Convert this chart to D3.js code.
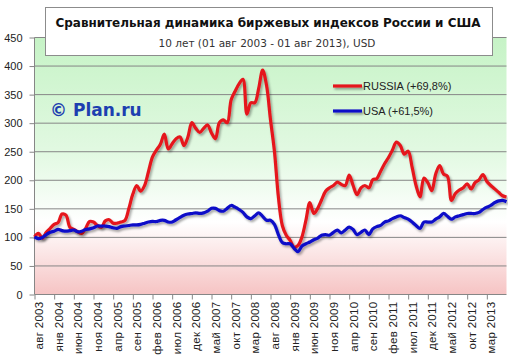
<!DOCTYPE html>
<html>
<head>
<meta charset="utf-8">
<script src="https://cdn.jsdelivr.net/npm/d3@7"></script>
<style>
  body { margin: 0; background: #fff; }
  svg { display: block; }
</style>
</head>
<body>
<div id="chart"></div>
<script>
// monthly points, 01 авг 2003 .. 01 авг 2013 (index 0..120)
var russia = [
  100, 106, 98, 108, 115, 122, 125, 140, 138, 117,
  113, 109, 106, 115, 127, 126, 120, 117, 128, 130,
  124, 124, 126, 129, 150, 175, 190, 180, 190, 215,
  240, 252, 262, 280, 254, 263, 272, 275, 260, 275,
  300, 290, 283, 290, 296, 282, 272, 300, 305, 300,
  340, 355, 368, 376, 315, 335, 335, 360, 392, 365,
  305, 250, 170, 120, 103, 94, 82, 85, 100, 129,
  160, 141, 150, 165, 180, 186, 190, 196, 192, 190,
  208, 190, 174, 186, 190, 186, 200, 202, 215, 228,
  239, 252, 266, 260, 245, 250, 222, 190, 170, 203,
  195, 181, 210, 225, 210, 206, 164, 176, 182, 186,
  193, 184, 195, 200, 209, 197, 190, 184, 178, 172,
  169.8
];
var usa = [
  100, 97, 99, 104, 108, 110, 113, 111, 110, 111,
  112, 109, 110, 113, 114, 116, 119, 119, 119, 118,
  116, 115, 118, 119, 120, 121, 121, 122, 124, 126,
  127, 127, 129, 129, 126, 126, 130, 134, 138, 140,
  141, 142, 141, 142, 145, 150, 150, 146, 145, 150,
  155, 152, 148, 143, 135, 132, 137, 142, 136, 129,
  129, 122, 104, 90, 88, 88, 80, 74, 84, 88,
  91, 95, 98, 103, 104, 103, 108, 112, 107, 112,
  117, 113, 104, 108, 112, 104, 114, 118, 120, 126,
  128, 132, 135, 137, 134, 131, 126, 120, 115, 126,
  126, 126, 131, 135, 141, 136, 131, 135, 137, 139,
  141, 141, 141, 143, 148, 152, 155, 160, 163, 164,
  161.5
];
var seriesNames = ['RUSSIA (+69,8%)', 'USA (+61,5%)'];
var seriesColors = ['#e5161c', '#0c0cc8'];

var tickIndex = [0, 5, 10, 15, 20, 25, 30, 35, 40, 45, 50, 55,
  60, 65, 70, 75, 80, 85, 90, 95, 100, 105, 110, 115];
var tickLabels = ['авг 2003', 'янв 2004', 'июн 2004', 'ноя 2004', 'апр 2005', 'сен 2005',
  'фев 2006', 'июл 2006', 'дек 2006', 'май 2007', 'окт 2007', 'мар 2008',
  'авг 2008', 'янв 2009', 'июн 2009', 'ноя 2009', 'апр 2010', 'сен 2010',
  'фев 2011', 'июл 2011', 'дек 2011', 'май 2012', 'окт 2012', 'мар 2013'];
var yTicks = [0, 50, 100, 150, 200, 250, 300, 350, 400, 450];

var chart_width = 508, chart_height = 361;
var plot_left = 34.5, plot_right = 506.5, plot_top = 37, plot_bottom = 294;

var svg = d3.select('#chart')
  .append('svg')
  .attr('width', chart_width)
  .attr('height', chart_height)
  .style('font-family', '"DejaVu Sans", sans-serif');

var defs = svg.append('defs');

var grad = defs.append('linearGradient')
  .attr('id', 'bg')
  .attr('x1', 0).attr('y1', 0).attr('x2', 0).attr('y2', 1);
grad.append('stop').attr('offset', '0%').attr('stop-color', '#c6f3c6');
grad.append('stop').attr('offset', '45%').attr('stop-color', '#e2f9e2');
grad.append('stop').attr('offset', '72%').attr('stop-color', '#ffffff');
grad.append('stop').attr('offset', '100%').attr('stop-color', '#f6c4c4');

// drop shadow in user space so flat legend lines keep it too
var shadow = defs.append('filter')
  .attr('id', 'shadow')
  .attr('filterUnits', 'userSpaceOnUse')
  .attr('x', 0).attr('y', 0)
  .attr('width', chart_width).attr('height', chart_height);
shadow.append('feDropShadow')
  .attr('dx', 1.5).attr('dy', 2)
  .attr('stdDeviation', 1.3)
  .attr('flood-color', '#000')
  .attr('flood-opacity', 0.35);

// scales
var x_scale = d3.scaleLinear()
  .domain([0, russia.length - 1])
  .range([plot_left, plot_right]);

var y_scale = d3.scaleLinear()
  .domain([0, 450])
  .range([plot_bottom, plot_top]);

// plot background
svg.append('rect')
  .attr('x', plot_left)
  .attr('y', plot_top)
  .attr('width', plot_right - plot_left)
  .attr('height', plot_bottom - plot_top)
  .attr('fill', 'url(#bg)');

// gridlines
svg.append('g')
  .selectAll('line')
  .data(yTicks.slice(1))
  .enter()
  .append('line')
  .attr('x1', plot_left)
  .attr('x2', plot_right)
  .attr('y1', function(d) { return y_scale(d) + 0.5; })
  .attr('y2', function(d) { return y_scale(d) + 0.5; })
  .attr('stroke', '#868686')
  .attr('stroke-width', 1);

// axes
var y_axis = d3.axisLeft(y_scale)
  .tickValues(yTicks)
  .tickSize(5)
  .tickPadding(7)
  .tickFormat(d3.format('d'));

var gy = svg.append('g')
  .attr('transform', 'translate(' + plot_left + ',0.5)')
  .call(y_axis);
gy.select('.domain').attr('stroke', '#868686').attr('d', 'M0,' + plot_top + 'V' + plot_bottom);
gy.selectAll('.tick line').attr('stroke', '#868686');
gy.selectAll('text').attr('font-size', '11px').attr('fill', '#222');

var x_axis = d3.axisBottom(x_scale)
  .tickValues(tickIndex)
  .tickSize(5)
  .tickFormat(function(d, i) { return tickLabels[i]; });

var gx = svg.append('g')
  .attr('transform', 'translate(0,' + (plot_bottom + 0.5) + ')')
  .call(x_axis);
gx.select('.domain').attr('stroke', '#868686').attr('d', 'M' + plot_left + ',0H' + plot_right);
gx.selectAll('.tick line').attr('stroke', '#868686');
gx.selectAll('text')
  .attr('font-size', '11.5px')
  .attr('letter-spacing', '0.3px')
  .attr('fill', '#222')
  .attr('text-anchor', 'end')
  .attr('transform', 'rotate(-90)')
  .attr('x', -7)
  .attr('y', 4)
  .attr('dy', '0.35em');

// lines
var line = d3.line()
  .x(function(d, i) { return x_scale(i); })
  .y(function(d) { return y_scale(d); })
  .curve(d3.curveCatmullRom.alpha(0.5));

[russia, usa].forEach(function(values, k) {
  svg.append('path')
    .datum(values)
    .attr('d', line)
    .attr('fill', 'none')
    .attr('stroke', seriesColors[k])
    .attr('stroke-width', 3.2)
    .attr('stroke-linejoin', 'round')
    .attr('filter', 'url(#shadow)');
});

// watermark
svg.append('text')
  .attr('x', 50)
  .attr('y', 116)
  .attr('font-size', '17px')
  .attr('font-weight', 'bold')
  .attr('fill', '#1d3fb0')
  .text('© Plan.ru');

// legend
var legend = svg.append('g');
seriesNames.forEach(function(name, k) {
  var ly = 86 + k * 25;
  legend.append('line')
    .attr('x1', 333).attr('x2', 362)
    .attr('y1', ly).attr('y2', ly)
    .attr('stroke', seriesColors[k])
    .attr('stroke-width', 3.2)
    .attr('filter', 'url(#shadow)');
  legend.append('text')
    .attr('x', 363)
    .attr('y', ly)
    .attr('dy', '0.35em')
    .attr('font-size', '11px')
    .attr('fill', '#222')
    .style('font-family', '"Liberation Sans", sans-serif')
    .text(name);
});

// title box
svg.append('rect')
  .attr('x', 45.5)
  .attr('y', 7.5)
  .attr('width', 447)
  .attr('height', 48)
  .attr('fill', '#fff')
  .attr('stroke', '#8c8c8c');

svg.append('text')
  .attr('x', 268)
  .attr('y', 27)
  .attr('text-anchor', 'middle')
  .attr('font-size', '12.5px')
  .attr('font-weight', 'bold')
  .attr('fill', '#111')
  .attr('textLength', 425)
  .attr('lengthAdjust', 'spacingAndGlyphs')
  .text('Сравнительная динамика биржевых индексов России и США');

svg.append('text')
  .attr('x', 267)
  .attr('y', 47)
  .attr('text-anchor', 'middle')
  .attr('font-size', '10.5px')
  .attr('fill', '#333')
  .text('10 лет (01 авг 2003 - 01 авг 2013), USD');
</script>
</body>
</html>
